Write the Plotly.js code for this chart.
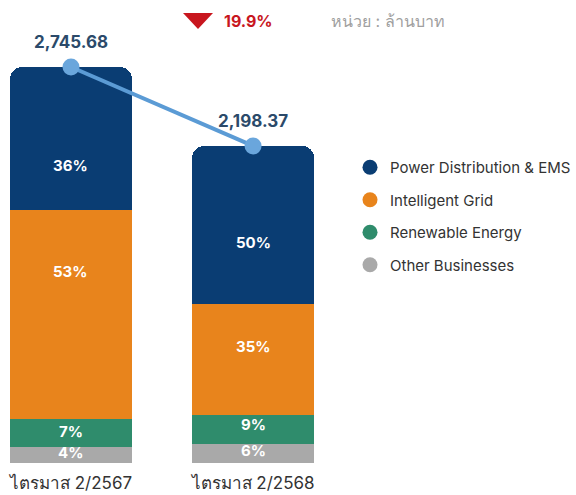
<!DOCTYPE html>
<html><head><meta charset="utf-8">
<script src="https://cdn.plot.ly/plotly-3.0.1.min.js"></script>
<style>html,body{margin:0;padding:0;background:#fff}#chart{width:576px;height:495px}</style>
</head><body><div id="chart"></div>
<script>
const categories = ['ไตรมาส 2/2567', 'ไตรมาส 2/2568'];
const totals = [2745.68, 2198.37];
const totalLabels = ['2,745.68', '2,198.37'];
const powerPct = [36, 50];
const gridPct = [53, 35];
const renewPct = [7, 9];
const otherPct = [4, 6];
const changeText = '19.9%';
const unitText = 'หน่วย : ล้านบาท';

const colors = {power:'#0a3d73', grid:'#e8841c', renew:'#2f8c6c', other:'#a9a9a9'};
const xs = [0, 1];
const seg = p => p.map((v,i)=> totals[i]*v/100);
const font = "Inter, 'Noto Sans', 'DejaVu Sans', sans-serif";

// stacking order, bottom to top
const series = [
  {name:'Other Businesses', pct:otherPct, color:colors.other, shift:[3,3]},
  {name:'Renewable Energy', pct:renewPct, color:colors.renew, shift:[2,5]},
  {name:'Intelligent Grid', pct:gridPct, color:colors.grid, shift:[43,13]},
  {name:'Power Distribution & EMS', pct:powerPct, color:colors.power, shift:[-27,-17]}
];

const data = [];
const annotations = [];
const base = [0, 0];
series.forEach(s => {
  const y = seg(s.pct);
  data.push({type:'bar', x:xs, y:y, name:s.name, marker:{color:s.color}, width:0.67,
    hoverinfo:'skip', showlegend:false});
  y.forEach((v,i) => {
    annotations.push({x:xs[i], y:base[i]+v/2, xref:'x', yref:'y', text:'<b>'+s.pct[i]+'%</b>',
      showarrow:false, yshift:s.shift[i], font:{color:'#ffffff', size:15, family:font}});
    base[i] += v;
  });
});
data.push({type:'scatter', x:xs, y:totals, mode:'lines+markers', line:{color:'#5b9bd5', width:4},
  marker:{color:'#6aa6dc', size:17}, showlegend:false, hoverinfo:'skip'});
totals.forEach((t,i) => annotations.push({x:xs[i], y:t, xref:'x', yref:'y', text:'<b>'+totalLabels[i]+'</b>',
  showarrow:false, yshift:25, font:{color:'#2b4a6a', size:17, family:font}}));
[...series].reverse().forEach(s => data.push({type:'scatter', x:[null], y:[null], mode:'markers',
  name:s.name, legendgroup:s.name, marker:{color:s.color, size:15, symbol:'circle'}}));

const px = v => (v-10)/325, py = v => (463-v)/423;
annotations.push(
  {xref:'paper', yref:'paper', x:px(222), y:py(21), text:'<b>'+changeText+'</b>', showarrow:false,
   font:{size:16, color:'#c8161e', family:font}, xanchor:'left', yanchor:'middle'},
  {xref:'paper', yref:'paper', x:px(329), y:py(21), text:unitText, showarrow:false,
   font:{size:16, color:'#a0a0a0', family:font}, xanchor:'left', yanchor:'middle'}
);
const shapes = [{type:'path', xref:'paper', yref:'paper', layer:'above',
  path:`M ${px(183)},${py(13)} L ${px(213)},${py(13)} L ${px(198)},${py(29)} Z`,
  fillcolor:'#c8161e', line:{width:0}}];

const layout = {
  width:576, height:495, margin:{l:10, r:241, t:40, b:32},
  paper_bgcolor:'#fff', plot_bgcolor:'#fff',
  barmode:'stack', barcornerradius:12,
  font:{family:font, color:'#333'},
  xaxis:{range:[-0.335, 1.45], tickvals:xs, ticktext:categories, showgrid:false, zeroline:false,
    showline:false, ticks:'', ticklabelstandoff:8, tickfont:{size:17, color:'#333'}, fixedrange:true},
  yaxis:{range:[0, 2933], showgrid:false, zeroline:false, showticklabels:false, showline:false, fixedrange:true},
  legend:{xref:'container', yref:'container', x:350/576, y:1-151/495, xanchor:'left', yanchor:'top',
    traceorder:'grouped', tracegroupgap:10, font:{size:15, color:'#333', family:font}, bgcolor:'rgba(0,0,0,0)'},
  annotations:annotations, shapes:shapes
};
Plotly.newPlot('chart', data, layout, {displayModeBar:false, staticPlot:true});
</script></body></html>
